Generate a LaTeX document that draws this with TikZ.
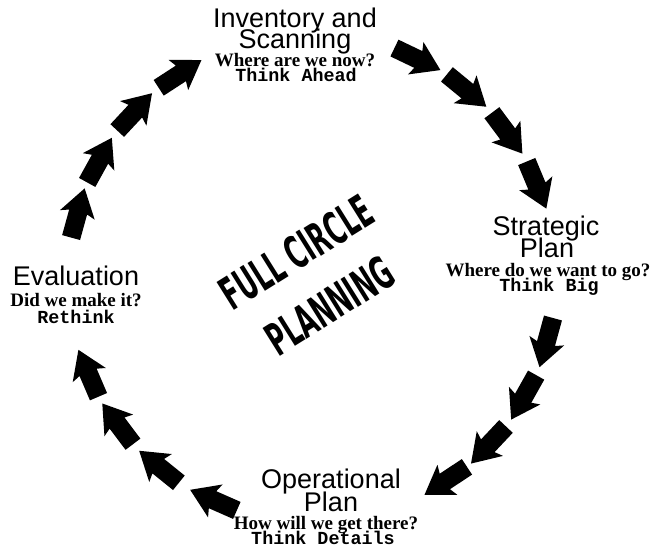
\documentclass[tikz,border=0pt]{standalone}
\usepackage{fontspec}
\setmainfont{Liberation Serif}
\newfontfamily\stagefont{Liberation Sans}
\newfontfamily\thinkfont{Liberation Mono}
\newfontfamily\bannerfont{DejaVu Sans Condensed}
\usetikzlibrary{calc}

\begin{document}
\begin{tikzpicture}[x=1pt,y=1pt,
  stagehead/.style={anchor=base,inner sep=0pt,font=\stagefont\fontsize{27}{22}\selectfont},
  stageask/.style={anchor=base,inner sep=0pt,font=\bfseries\fontsize{19}{22}\selectfont},
  stagethink/.style={anchor=base,inner sep=0pt,font=\thinkfont\bfseries\fontsize{18.4}{22}\selectfont},
  banner/.style={rotate=32,inner sep=0pt,align=center,font=\bannerfont\bfseries\fontsize{45}{63}\selectfont}]
\useasboundingbox (0,0) rectangle (663,556);
\coordinate (ctr) at (312,278);

\node[stagehead] (inv1) at (295,528) {Inventory and};
\node[stagehead] (inv2) at (295,507) {Scanning};
\node[stageask] (invask) at (295,489) {Where are we now?};
\node[stagethink] (invthink) at (296,474) {Think Ahead};

\node[stagehead] (str1) at (546,320) {Strategic};
\node[stagehead] (str2) at (547,298) {Plan};
\node[stageask] (strask) at (548,279) {Where do we want to go?};
\node[stagethink] (strthink) at (549,264) {Think Big};

\node[stagehead] (op1) at (331,67) {Operational};
\node[stagehead] (op2) at (331,44) {Plan};
\node[stageask] (opask) at (326,26) {How will we get there?};
\node[stagethink] (opthink) at (323,11) {Think Details};

\node[stagehead] (eval1) at (76,270) {Evaluation};
\node[stageask] (evalask) at (76,249) {Did we make it?};
\node[stagethink] (evalthink) at (76,232) {Rethink};

\node[banner] (banner) at (313,277) {\scalebox{0.6}[1]{FULL CIRCLE}\\\scalebox{0.6}[1]{PLANNING}};

\foreach \a in {64.4,50.6,36.7,22.6,-15.3,-29.3,-43.3,-56.5,-113.8,-128.9,-143,-156.8,164.6,151.1,137,123}
  \fill[black,shift={($(ctr)+(\a:243)$)},rotate=\a-90]
    (-25,-9.3) -- (1.5,-9.3) -- (-1.5,-18) -- (26,0) -- (-1.5,18) -- (1.5,9.3) -- (-25,9.3) -- cycle;
\end{tikzpicture}
\end{document}
